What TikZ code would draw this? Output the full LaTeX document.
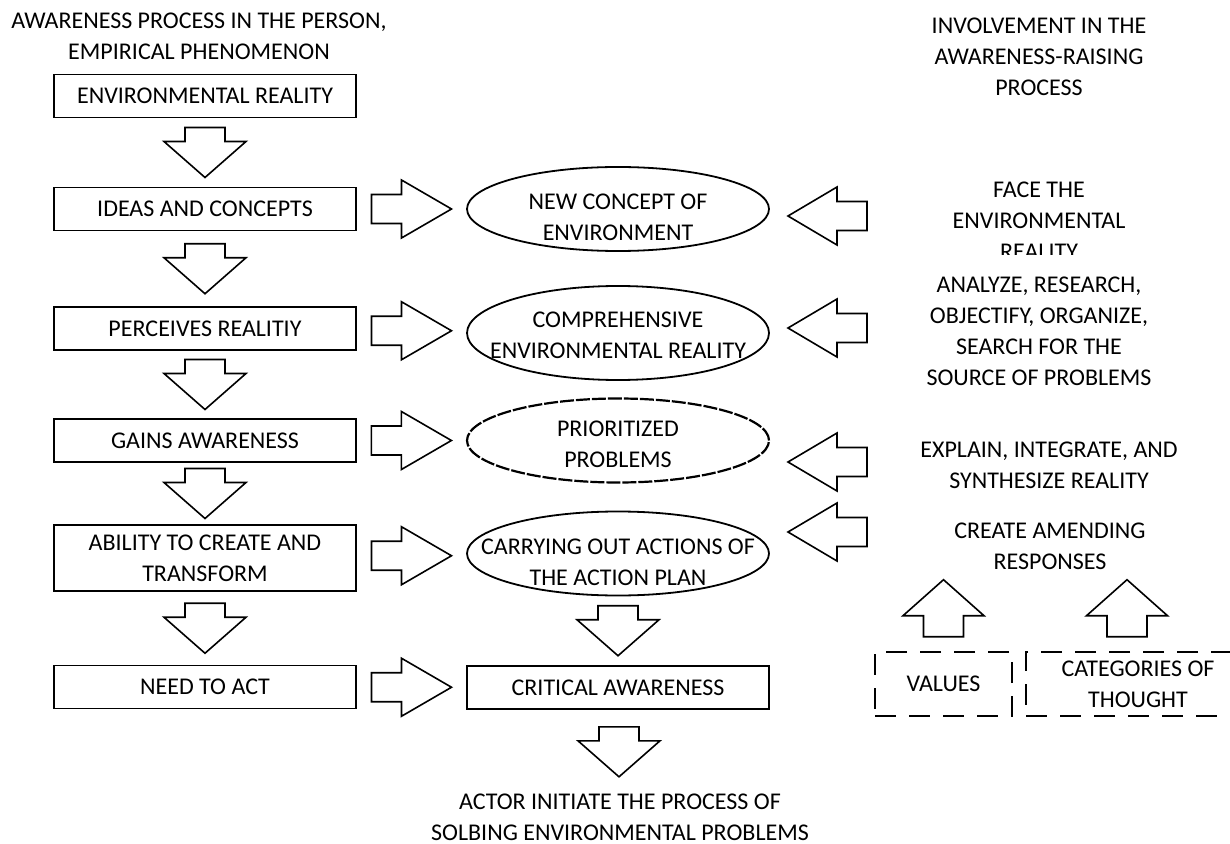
\documentclass[tikz,border=0pt]{standalone}
\usepackage{fontspec}
\setmainfont{Carlito}
\usetikzlibrary{shapes.geometric,calc}

\tikzset{
  box/.style={draw, line width=0.9pt, minimum width=151pt, minimum height=21.5pt, inner sep=0pt, align=center},
  oval/.style={draw, ellipse, line width=0.9pt, minimum width=151pt, minimum height=42pt, inner sep=0pt},
  dbox/.style={draw, line width=1.3pt, dash pattern=on 10.5pt off 6.5pt, minimum height=32pt, inner sep=0pt, align=center},
  txt/.style={align=center, inner sep=0pt},
  arr/.style={draw, line width=0.8pt, line join=miter},
  pics/blockarr/.style n args={4}{code={
    \draw[arr] ({-#1/2},{-#3}) -- ({-#1/2+#2},{-#3}) -- ({-#1/2+#2},{-#4}) -- ({#1/2},0)
      -- ({-#1/2+#2},{#4}) -- ({-#1/2+#2},{#3}) -- ({-#1/2},{#3}) -- cycle;
  }}
}

\begin{document}
\begin{tikzpicture}[x=0.5pt,y=-0.5pt,
  every node/.style={font=\fontsize{12pt}{15.5pt}\selectfont}]
\useasboundingbox (0,0) rectangle (1230,844);

% left column: the person
\node[txt] (head1) at (199,36.5) {AWARENESS PROCESS IN THE PERSON,\\EMPIRICAL PHENOMENON};
\node[box] (env) at (205,96) {ENVIRONMENTAL REALITY};
\node[box] (ideas) at (205,209) {IDEAS AND CONCEPTS};
\node[box] (perc) at (205,328.5) {PERCEIVES REALITIY};
\node[box] (gains) at (205,440.5) {GAINS AWARENESS};
\node[box, minimum height=33pt] (abil) at (205,558) {ABILITY TO CREATE AND\\TRANSFORM};
\node[box] (need) at (205,687) {NEED TO ACT};

% middle column
\node[oval] (e1) at (618,209) {};
\node[oval, minimum height=47pt] (e2) at (618,333) {};
\node[oval, line width=1.1pt, dash pattern=on 7pt off 1pt] (e3) at (618,440.5) {};
\node[oval] (e4) at (618,553.5) {};
\node[txt] (e1t) at (618,217) {NEW CONCEPT OF\\ENVIRONMENT};
\node[txt] (e2t) at (618,335) {COMPREHENSIVE\\ENVIRONMENTAL REALITY};
\node[txt] (e3t) at (618,444) {PRIORITIZED\\PROBLEMS};
\node[txt] (e4t) at (618,562) {CARRYING OUT ACTIONS OF\\THE ACTION PLAN};
\node[box] (crit) at (618,687.5) {CRITICAL AWARENESS};
\node[txt] (actor) at (620,817.5) {ACTOR INITIATE THE PROCESS OF\\SOLBING ENVIRONMENTAL PROBLEMS};

% right column: involvement
\node[txt] (head2) at (1039,57) {INVOLVEMENT IN THE\\AWARENESS-RAISING\\PROCESS};
\begin{scope}
  \clip (900,170) rectangle (1180,255);
  \node[txt] (face) at (1039,221) {FACE THE\\ENVIRONMENTAL\\REALITY};
\end{scope}
\node[txt] (anal) at (1039,331.5) {ANALYZE, RESEARCH,\\OBJECTIFY, ORGANIZE,\\SEARCH FOR THE\\SOURCE OF PROBLEMS};
\node[txt] (expl) at (1049,465.5) {EXPLAIN, INTEGRATE, AND\\SYNTHESIZE REALITY};
\node[txt] (crea) at (1050,546) {CREATE AMENDING\\RESPONSES};
\node[dbox, minimum width=68.5pt] (vals) at (943.5,684) {VALUES};
\node[dbox, minimum width=112pt] (cats) at (1138,684) {CATEGORIES OF\\THOUGHT};

% block arrows
\foreach \a/\b in {env/ideas,ideas/perc,perc/gains,gains/abil,abil/need,e4/crit,crit/actor}
  \pic[rotate=-90] at ($(\a.south)!.5!(\b.north)$) {blockarr={50}{14}{20}{41}};
\foreach \a/\b in {ideas/e1,perc/e2,gains/e3,abil/e4,need/crit}
  \pic at ($(\a.east)!.5!(\b.west)$) {blockarr={80}{30}{14.5}{29}};
\foreach \y in {216,328,462,532}
  \pic[rotate=180] at (827.5,\y) {blockarr={79}{30}{14.5}{29}};
\pic[rotate=90] at ($(vals.north)+(0,-42.5)$) {blockarr={57}{21}{20}{40.5}};
\pic[rotate=90] at ($(cats.north)+(-11,-42.5)$) {blockarr={57}{21}{20}{40.5}};
\end{tikzpicture}
\end{document}
